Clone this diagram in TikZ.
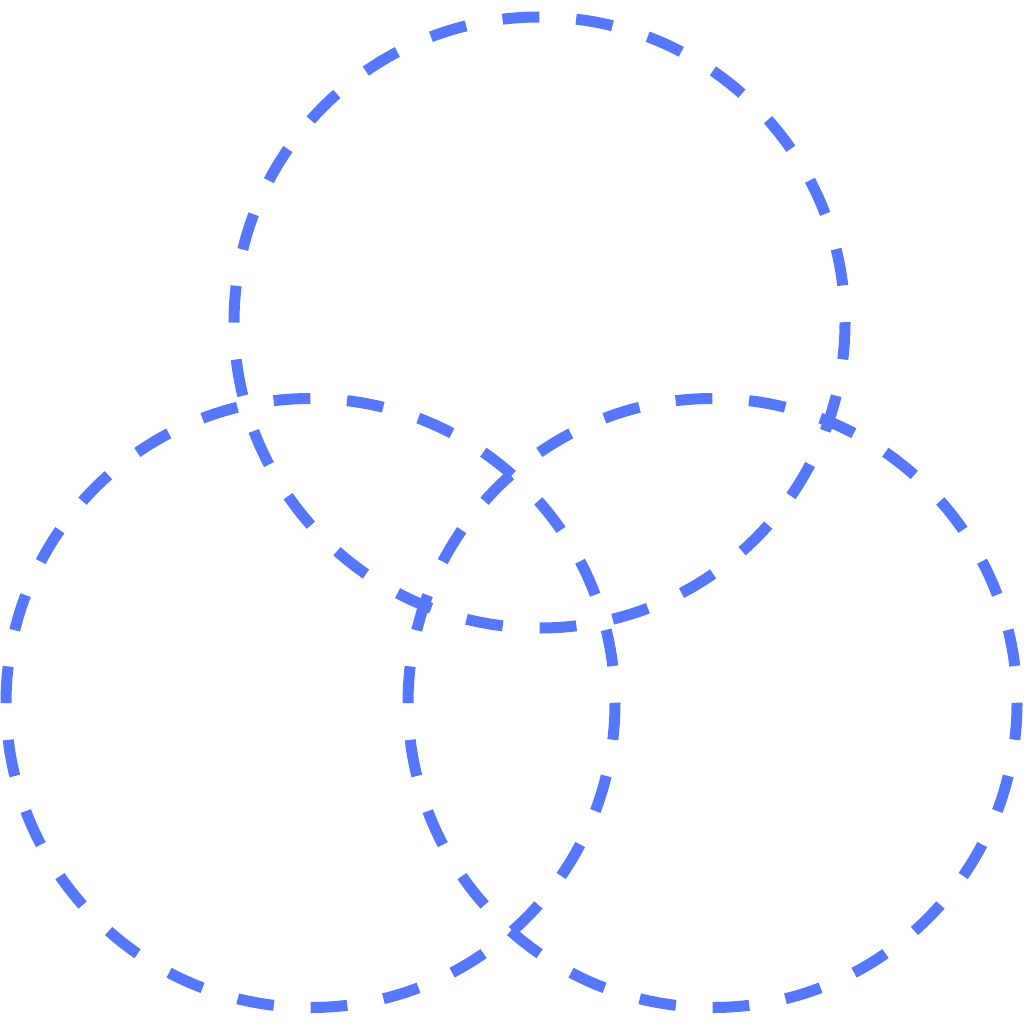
\documentclass[tikz,border=0pt]{standalone}
\usepackage{tikz}
\definecolor{ringblue}{RGB}{86,118,252}
\tikzset{
  ring/.style={draw=ringblue, line width=11pt, line cap=butt, dash pattern=on #1pt off #1pt, dash phase=0pt}
}
\begin{document}
\begin{tikzpicture}[x=1pt,y=-1pt]
  \useasboundingbox (0,0) rectangle (1024,1024);
  \pgfmathsetmacro\dTop{pi*305.5/26}
  \pgfmathsetmacro\dLow{pi*304.5/26}
  \draw[ring=\dTop] (539.5,322.5) circle[radius=305.5];
  \draw[ring=\dLow] (310.5,703) circle[radius=304.5];
  \draw[ring=\dLow] (712.5,703) circle[radius=304.5];
\end{tikzpicture}
\end{document}
